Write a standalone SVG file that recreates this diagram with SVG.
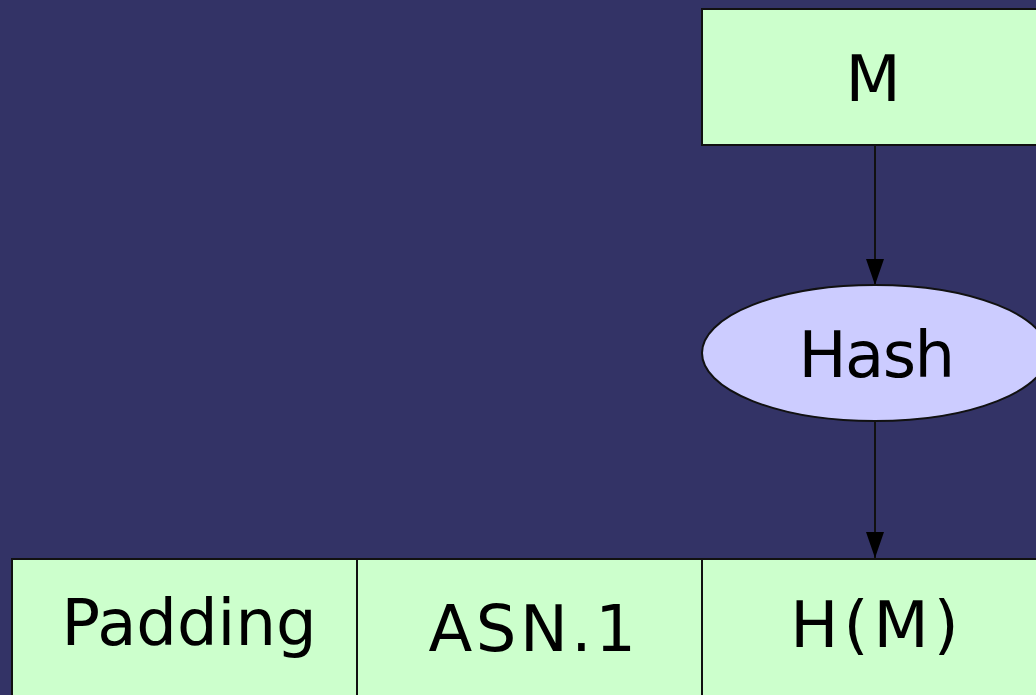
<svg xmlns="http://www.w3.org/2000/svg" width="1036" height="695" viewBox="0 0 1036 695">
  <style>
    .box { fill: #ccffcc; stroke: #111111; stroke-width: 2; }
    .op { fill: #ccccff; stroke: #111111; stroke-width: 2; }
    .lbl { font-family: "DejaVu Sans", "Verdana", sans-serif; font-size: 64px; fill: #000000; text-anchor: middle; }
    .edge { stroke: #111111; stroke-width: 2; fill: none; }
  </style>
  <defs>
    <marker id="arrow" viewBox="0 0 26 18" refX="26" refY="9" markerWidth="26" markerHeight="18" markerUnits="userSpaceOnUse" orient="auto">
      <path d="M0,0 L26,9 L0,18 Z" fill="#000000"/>
    </marker>
  </defs>
  <rect x="0" y="0" width="1036" height="695" fill="#333366"/>

  <g id="connectors">
    <line class="edge" x1="875" y1="146" x2="875" y2="285" marker-end="url(#arrow)"/>
    <line class="edge" x1="875" y1="422" x2="875" y2="558" marker-end="url(#arrow)"/>
  </g>

  <g id="node-m">
    <rect class="box" x="702" y="9" width="346" height="136"/>
    <text class="lbl" x="873" y="101">M</text>
  </g>

  <g id="node-hash">
    <ellipse class="op" cx="875" cy="353" rx="173" ry="68"/>
    <text class="lbl" x="876" y="377" letter-spacing="-1.5">Hash</text>
  </g>

  <g id="node-padding">
    <rect class="box" x="12" y="559" width="345" height="140"/>
    <text class="lbl" x="189" y="645">Padding</text>
  </g>

  <g id="node-asn1">
    <rect class="box" x="357" y="559" width="345" height="140"/>
    <text class="lbl" x="534" y="651" letter-spacing="3.5">ASN.1</text>
  </g>

  <g id="node-hm">
    <rect class="box" x="702" y="559" width="346" height="140"/>
    <text class="lbl" x="877" y="647" letter-spacing="5">H(M)</text>
  </g>
</svg>
